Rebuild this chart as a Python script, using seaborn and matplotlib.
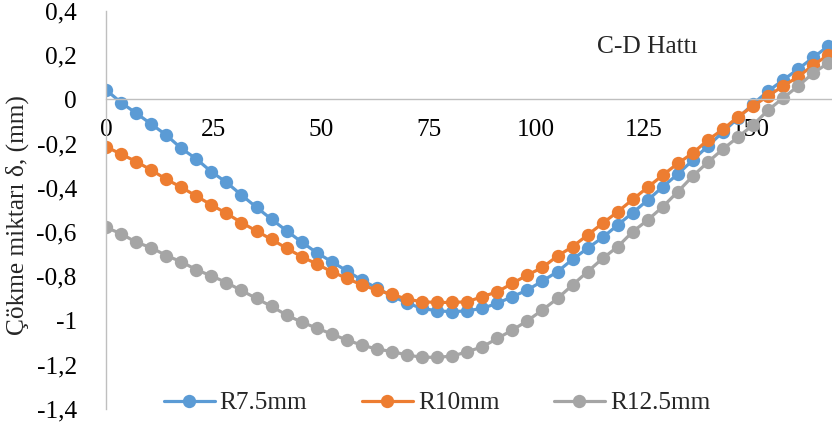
import numpy as np
import pandas as pd
import matplotlib
matplotlib.use("Agg")
import matplotlib.pyplot as plt
from matplotlib.ticker import FuncFormatter, FixedLocator
import seaborn as sns

# ---- data ----
distance = [i * 3.5 for i in range(49)]
series_names = ["R7.5mm", "R10mm", "R12.5mm"]
r75 = [0.043, -0.014, -0.062, -0.111, -0.161, -0.221, -0.269, -0.327, -0.375, -0.432,
       -0.488, -0.542, -0.594, -0.645, -0.693, -0.734, -0.775, -0.817, -0.853, -0.889,
       -0.921, -0.945, -0.956, -0.960, -0.956, -0.945, -0.922, -0.892, -0.862, -0.821,
       -0.779, -0.723, -0.673, -0.624, -0.568, -0.512, -0.455, -0.395, -0.337, -0.274,
       -0.210, -0.147, -0.084, -0.020, 0.038, 0.088, 0.138, 0.190, 0.242]
r10 = [-0.214, -0.247, -0.281, -0.319, -0.361, -0.397, -0.437, -0.477, -0.515, -0.557,
       -0.595, -0.633, -0.673, -0.711, -0.744, -0.779, -0.809, -0.839, -0.862, -0.882,
       -0.903, -0.915, -0.918, -0.918, -0.915, -0.892, -0.870, -0.832, -0.794, -0.760,
       -0.708, -0.666, -0.613, -0.560, -0.508, -0.452, -0.397, -0.342, -0.289, -0.242,
       -0.183, -0.135, -0.078, -0.029, 0.016, 0.061, 0.103, 0.156, 0.201]
r125 = [-0.579, -0.607, -0.646, -0.670, -0.706, -0.734, -0.770, -0.798, -0.828, -0.864,
        -0.900, -0.936, -0.975, -1.007, -1.034, -1.061, -1.088, -1.111, -1.129, -1.140,
        -1.156, -1.166, -1.166, -1.161, -1.141, -1.119, -1.081, -1.043, -1.001, -0.952,
        -0.900, -0.839, -0.779, -0.719, -0.666, -0.598, -0.545, -0.485, -0.417, -0.346,
        -0.283, -0.224, -0.170, -0.115, -0.048, 0.007, 0.061, 0.120, 0.165]
x_ticks = [0, 25, 50, 75, 100, 125, 150]
y_ticks = [0.4, 0.2, 0, -0.2, -0.4, -0.6, -0.8, -1.0, -1.2, -1.4]
title_text = "C-D Hattı"
ylabel_text = "Çökme miktarı δ, (mm)"
colors = ["#5B9BD5", "#ED7D31", "#A5A5A5"]

df = pd.DataFrame({
    "x": distance * 3,
    "y": r75 + r10 + r125,
    "series": [series_names[0]] * len(r75) + [series_names[1]] * len(r10) + [series_names[2]] * len(r125),
})

sns.set_theme(style="white")
plt.rcParams["font.family"] = ["Liberation Serif", "DejaVu Serif"]
FS = 18.3

W, H = 832, 429
fig = plt.figure(figsize=(W / 100, H / 100), dpi=100)
ax = fig.add_axes([106 / W, 1 - 409 / H, (W - 106) / W, (409 - 11) / H])

sns.lineplot(data=df, x="x", y="y", hue="series", hue_order=series_names,
             palette=colors, marker="o", markersize=9.6, markeredgewidth=0,
             linewidth=2.3, sort=False, ax=ax, legend=True)

ax.set_xlim(0, (W - 106) / 4.3)
ax.set_ylim(-1.4, 0.4)

for s in ["top", "right"]:
    ax.spines[s].set_visible(False)
ax.spines["bottom"].set_position(("data", 0))
for s in ["left", "bottom"]:
    ax.spines[s].set_color("#BFBFBF")
    ax.spines[s].set_linewidth(1.0)

ax.xaxis.set_major_locator(FixedLocator(x_ticks))
ax.yaxis.set_major_locator(FixedLocator(y_ticks))
ax.xaxis.set_major_formatter(FuncFormatter(lambda v, p: f"{v:g}"))
ax.yaxis.set_major_formatter(FuncFormatter(lambda v, p: f"{round(v, 1):g}".replace(".", ",")))
ax.tick_params(axis="x", length=0, pad=14, labelsize=FS, colors="black")
ax.tick_params(axis="y", length=0, pad=21, labelsize=FS, colors="black")
ax.set_xlabel("")
ax.set_ylabel("")
ax.grid(False)

fig.text(17 / W, 1 - 215 / H, ylabel_text, rotation=90, ha="center", va="center", fontsize=FS)
fig.text(647 / W, 1 - 47 / H, title_text, ha="center", va="center", fontsize=FS)

handles, labels = ax.get_legend_handles_labels()
ax.legend(handles, labels, loc="center", bbox_to_anchor=(437 / W, 1 - 403 / H),
          bbox_transform=fig.transFigure, ncol=3, frameon=False, fontsize=FS,
          handlelength=2.0, handletextpad=0.2, columnspacing=2.15, borderpad=0)

fig.savefig("out.png", dpi=100)
